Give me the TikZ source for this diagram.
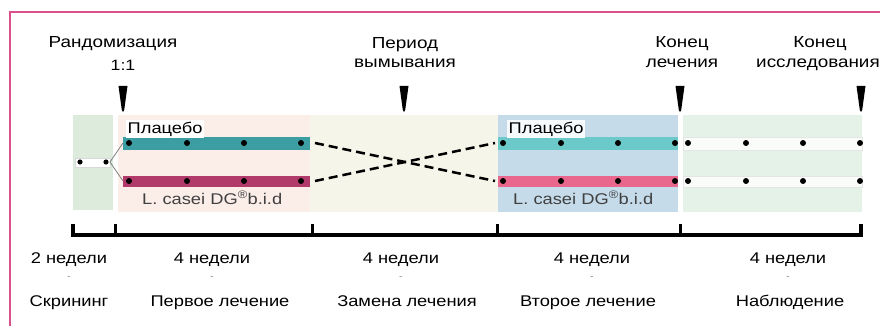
\documentclass[tikz,border=0pt]{standalone}
\usepackage{fontspec}
\setmainfont[FakeStretch=1.18]{Liberation Sans}
\usetikzlibrary{calc}

\definecolor{framepink}{HTML}{D9508D}
\definecolor{screengreen}{HTML}{DCEBDC}
\definecolor{firstpink}{HTML}{FBEEE9}
\definecolor{washbeige}{HTML}{F5F5EA}
\definecolor{secondblue}{HTML}{C5DBEA}
\definecolor{followgreen}{HTML}{E5F2E7}
\definecolor{tealdark}{HTML}{3C9EA2}
\definecolor{magentadark}{HTML}{B23A6B}
\definecolor{teallight}{HTML}{6CC9C9}
\definecolor{pinklight}{HTML}{E9678C}

\begin{document}
\begin{tikzpicture}[x=1pt,y=-1pt,
	toplabel/.style={font=\fontsize{16}{19}\selectfont, anchor=base, inner sep=0pt},
	weeklabel/.style={font=\fontsize{15.5}{18}\selectfont, anchor=base, inner sep=0pt},
	armlabel/.style={font=\fontsize{15.5}{18}\selectfont, anchor=base west, inner sep=0pt},
	tick/.style={font=\fontsize{9}{10}\selectfont, anchor=base, inner sep=0pt, text=gray}]
	\useasboundingbox (0,0) rectangle (880,326);

	% Frame
	\draw[line width=2pt, color=framepink] (10,326) -- (10,12) -- (880,12);

	% Period boxes
	\fill[screengreen] (73,115) rectangle (113,210);
	\fill[firstpink] (118,115) rectangle (310,212);
	\fill[washbeige] (310,115) rectangle (498,212);
	\fill[secondblue] (498,115) rectangle (678,212);
	\fill[followgreen] (683,115) rectangle (862,212);

	% Screening
	\begin{scope}
		\coordinate (screenleft) at (75,162);
		\coordinate (screenright) at (110,162);
		\fill[white, draw=gray!30] (75,158) rectangle (110,167);
		\fill (80,162) circle (2.6pt);
		\fill (106,162) circle (2.6pt);
	\end{scope}

	% First treatment
	\begin{scope}
		\coordinate (firsttopleft) at (123,143);
		\coordinate (firstbotleft) at (123,181);
		\coordinate (firsttopright) at (310,143);
		\coordinate (firstbotright) at (310,181);
		\fill[tealdark] (123,137) rectangle (310,150);
		\fill[magentadark] (123,176) rectangle (310,187);
		\draw[thick, color=gray] (screenright) -- (firsttopleft);
		\draw[thick, color=gray] (screenright) -- (firstbotleft);
		\foreach \x in {129,187,244,301} {
			\fill (\x,143) circle (3pt);
			\fill (\x,181) circle (3pt);
		}
		\node[armlabel, fill=white, inner sep=1.5pt] (placeboone) at (126,133) {Плацебо};
		\node[armlabel, text=black!75] (caseione) at (142,204) {L. casei DG\textsuperscript{®}b.i.d};
	\end{scope}

	% Second treatment
	\begin{scope}
		\coordinate (secondtopleft) at (498,143);
		\coordinate (secondbotleft) at (498,181);
		\fill[teallight] (498,137) rectangle (678,150);
		\fill[pinklight] (498,176) rectangle (678,187);
		\foreach \x in {503,561,618,675} {
			\fill (\x,143) circle (3pt);
			\fill (\x,181) circle (3pt);
		}
		\node[armlabel, fill=white!85!secondblue, inner sep=1.5pt] (placebotwo) at (507,133) {Плацебо};
		\node[armlabel, text=black!75] (caseitwo) at (513,204) {L. casei DG\textsuperscript{®}b.i.d};
	\end{scope}

	% Washout crossing
	\draw[line width=2.5pt, dash pattern=on 9pt off 5pt] ($(firsttopright)+(5,0)$) -- ($(secondbotleft)+(-3,0)$);
	\draw[line width=2.5pt, dash pattern=on 9pt off 5pt] ($(firstbotright)+(5,0)$) -- ($(secondtopleft)+(-3,0)$);

	% Follow-up
	\begin{scope}
		\fill[white!80!followgreen, draw=gray!20] (683,137) rectangle (862,150);
		\fill[white!80!followgreen, draw=gray!20] (683,176) rectangle (862,187);
		\foreach \x in {688,746,803,860} {
			\fill (\x,143) circle (3pt);
			\fill (\x,181) circle (3pt);
		}
	\end{scope}

	% Milestones
	\node[toplabel] (randtext) at (113,48) {Рандомизация};
	\node[toplabel, font=\fontsize{15}{18}\selectfont] (ratiotext) at (123,71) {1:1};
	\node[toplabel] (washtext) at (405,49) {Период};
	\node[toplabel] (washtexttwo) at (405,68) {вымывания};
	\node[toplabel] (endtreat) at (682,48) {Конец};
	\node[toplabel] (endtreattwo) at (682,68) {лечения};
	\node[toplabel] (endstudy) at (820,48) {Конец};
	\node[toplabel] (endstudytwo) at (818,68) {исследования};
	\foreach \x in {123,404,680,861}
		\fill (\x-4.5,86) -- (\x+4.5,86) -- (\x+1.2,110) -- (\x,112) -- (\x-1.2,110) -- cycle;

	% Time line
	\draw[line width=3.5pt] (73,224) -- (73,235) -- (861,235) -- (861,224);
	\foreach \x in {115,312,497,680}
		\draw[line width=3pt] (\x,224) -- (\x,235);

	% Durations
	\node[weeklabel] (wkscreen) at (69,263) {2 недели};
	\node[weeklabel] (wkfirst) at (212,263) {4 недели};
	\node[weeklabel] (wkwash) at (401,263) {4 недели};
	\node[weeklabel] (wksecond) at (592,263) {4 недели};
	\node[weeklabel] (wkfollow) at (788,263) {4 недели};
	\foreach \x in {69,212,401,592,788}
		\node[tick] at (\x,279) {-};

	% Phases
	\node[weeklabel] (phscreen) at (69,306) {Скрининг};
	\node[weeklabel] (phfirst) at (220,306) {Первое лечение};
	\node[weeklabel] (phwash) at (407,306) {Замена лечения};
	\node[weeklabel] (phsecond) at (588,306) {Второе лечение};
	\node[weeklabel] (phfollow) at (790,306) {Наблюдение};
\end{tikzpicture}
\end{document}
